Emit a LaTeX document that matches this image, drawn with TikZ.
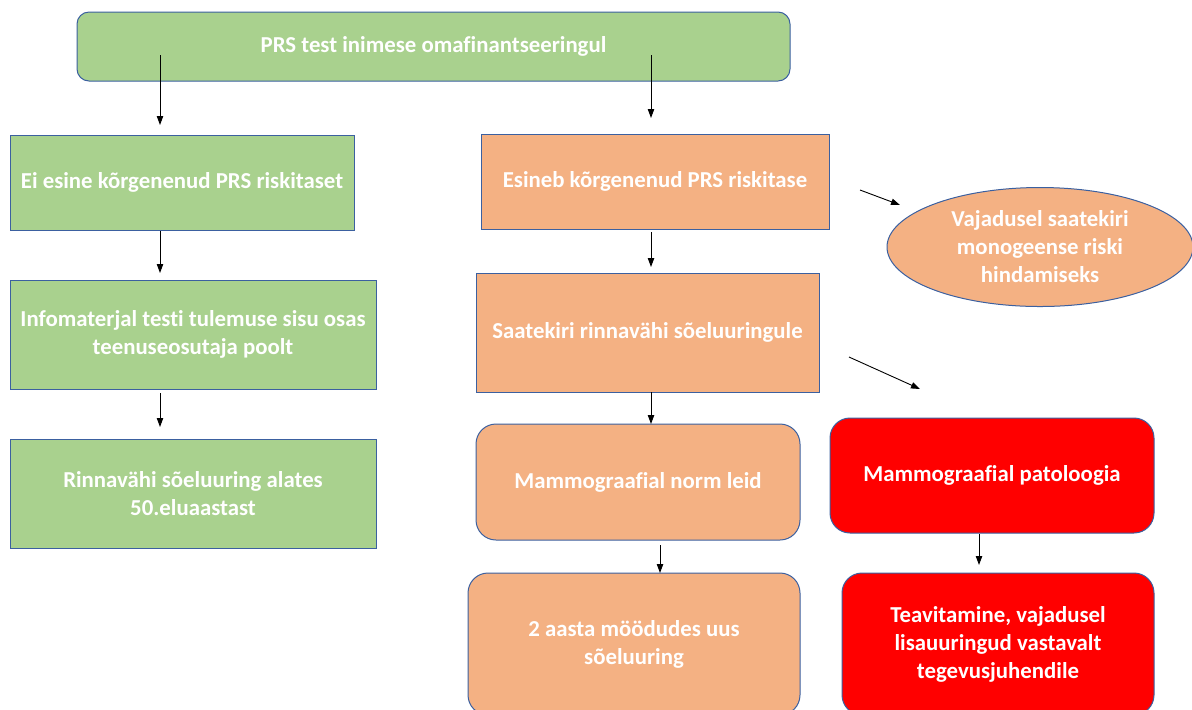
\documentclass[tikz,border=0pt]{standalone}
\usepackage{fontspec}
\setmainfont{Carlito}[Ligatures=NoCommon]
\usetikzlibrary{arrows.meta,shapes.geometric}
\definecolor{prsgreen}{RGB}{169,209,142}
\definecolor{prsorange}{RGB}{244,177,131}
\definecolor{prsred}{RGB}{255,0,0}
\definecolor{prsline}{RGB}{59,96,160}

\begin{document}
\begin{tikzpicture}[x=0.5pt, y=-0.5pt,
  box/.style={draw=prsline, line width=0.5pt, text=white, align=center, inner sep=0pt,
    font=\fontsize{11.4}{14}\selectfont\bfseries},
  arr/.style={-{Triangle[length=4.5pt,width=3.2pt]}, line width=0.45pt, black}]
\clip (0,0) rectangle (1192,709);

% Top: test
\node[box, fill=prsgreen, rounded corners=6pt, minimum width=356.5pt, minimum height=34.5pt] (test) at (433.5,46.5) {PRS test inimese omafinantseeringul};

% Left branch: no elevated risk
\node[box, fill=prsgreen, minimum width=172pt, minimum height=47.5pt] (norisk) at (182,182.5) {Ei esine kõrgenenud PRS riskitaset};
\node[box, fill=prsgreen, minimum width=183pt, minimum height=54.5pt] (info) at (193,334.5) {Infomaterjal testi tulemuse sisu osas\\teenuseosutaja poolt};
\node[box, fill=prsgreen, minimum width=183pt, minimum height=54.5pt] (screen) at (193,493.5) {Rinnavähi sõeluuring alates\\50.eluaastast};

% Right branch: elevated risk
\node[box, fill=prsorange, minimum width=174pt, minimum height=47.5pt] (risk) at (655,181.5) {Esineb kõrgenenud PRS riskitase};
\node[box, fill=prsorange, ellipse, minimum width=153pt, minimum height=59.5pt] (mono) at (1040,247) {Vajadusel saatekiri\\monogeense riski\\hindamiseks};
\node[box, fill=prsorange, minimum width=171.5pt, minimum height=59.5pt] (referral) at (647.5,332.5) {Saatekiri rinnavähi sõeluuringule};
\node[box, fill=prsorange, rounded corners=10pt, minimum width=162pt, minimum height=58pt] (normal) at (638,482) {Mammograafial norm leid};
\node[box, fill=prsorange, rounded corners=10pt, minimum width=166pt, minimum height=71pt] (repeat) at (634,644) {2 aasta möödudes uus\\sõeluuring};
\node[box, fill=prsred, rounded corners=10pt, minimum width=162pt, minimum height=57.5pt] (patho) at (992,475.5) {Mammograafial patoloogia};
\node[box, fill=prsred, rounded corners=10pt, minimum width=156pt, minimum height=71pt] (notify) at (998,644) {Teavitamine, vajadusel\\lisauuringud vastavalt\\tegevusjuhendile};

% Arrow ends
\coordinate (testL) at (160,55);   \coordinate (noriskIn) at (160,125);
\coordinate (testR) at (651,55);   \coordinate (riskIn) at (651,118);
\coordinate (noriskOut) at (160,231); \coordinate (infoIn) at (160,273);
\coordinate (infoOut) at (160,393);   \coordinate (screenIn) at (160,427);
\coordinate (riskOut) at (651,232);   \coordinate (referralIn) at (651,267);
\coordinate (riskSide) at (860,190);  \coordinate (monoIn) at (900,205);
\coordinate (referralSide) at (849,357); \coordinate (pathoIn) at (920,389);
\coordinate (referralOut) at (651,392); \coordinate (normalIn) at (651,424);
\coordinate (normalOut) at (660,545);   \coordinate (repeatIn) at (660,573);
\coordinate (pathoOut) at (979,534);    \coordinate (notifyIn) at (979,565);

% Arrows
\draw[arr] (testL) -- (noriskIn);
\draw[arr] (testR) -- (riskIn);
\draw[arr] (noriskOut) -- (infoIn);
\draw[arr] (infoOut) -- (screenIn);
\draw[arr] (riskOut) -- (referralIn);
\draw[arr] (riskSide) -- (monoIn);
\draw[arr] (referralSide) -- (pathoIn);
\draw[arr] (referralOut) -- (normalIn);
\draw[arr] (normalOut) -- (repeatIn);
\draw[arr] (pathoOut) -- (notifyIn);
\end{tikzpicture}
\end{document}
